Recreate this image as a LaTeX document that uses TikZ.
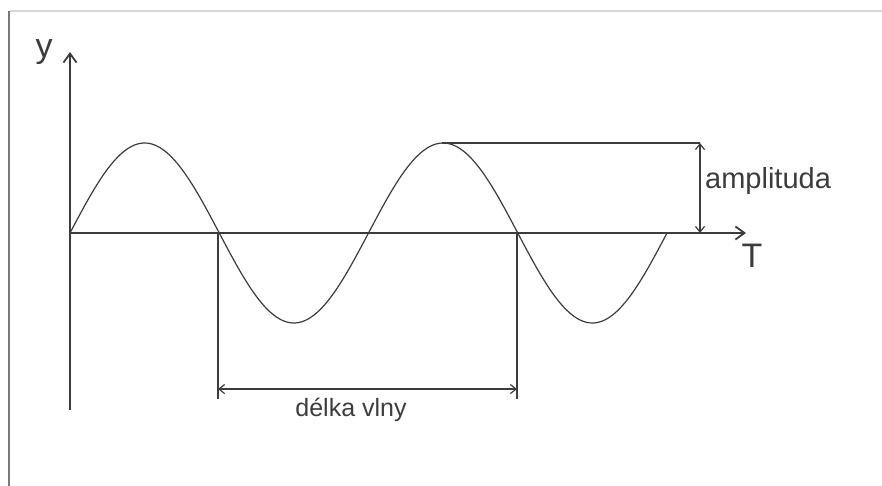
\documentclass[tikz,border=0pt]{standalone}
\usepackage{fontspec}
\setmainfont{Liberation Sans}
\usetikzlibrary{positioning,arrows.meta,calc}
\definecolor{InkGrey}{RGB}{60,60,60}
\definecolor{FrameGrey}{RGB}{120,120,120}
\definecolor{EdgeGrey}{RGB}{215,215,215}
\tikzset{
  axis/.style={-{Straight Barb[length=3.2mm,width=4.6mm]},line width=1.8pt,draw=InkGrey},
  wave/.style={line width=1.2pt,draw=InkGrey},
  guide/.style={line width=1.2pt,draw=InkGrey},
  dimline/.style={{Straight Barb[length=2mm,width=3.2mm]}-{Straight Barb[length=2mm,width=3.2mm]},line width=1.2pt,draw=InkGrey},
  lbl/.style={inner sep=0pt,text=InkGrey,font=\fontsize{25}{30}\selectfont},
  amplbl/.style={inner sep=0pt,text=InkGrey,font=\fontsize{29}{32}\selectfont},
  biglbl/.style={inner sep=0pt,text=InkGrey,font=\fontsize{34}{38}\selectfont}
}
\begin{document}
\begin{tikzpicture}[x=1pt,y=-1pt]
  \useasboundingbox (0,0) rectangle (882,486);
  % frame
  \draw[line width=2.2pt,draw=FrameGrey] (9,11) -- (9,486);
  \draw[line width=1.6pt,draw=EdgeGrey] (10,11) -- (882,11);
  % axes
  \coordinate (origin) at (70,233);
  \coordinate (ybot) at (70,410);
  \coordinate (ytop) at (70,52);
  \coordinate (xend) at (746,233);
  \draw[axis] (ybot) -- (ytop);
  \draw[axis] (origin) -- (xend);
  \node[biglbl] (ylab) at (44,52) {y};
  \node[biglbl] (tlab) at (752,256) {T};
  % wave
  \draw[wave] plot[domain=0:597,samples=240] ({70+\x},{233-90*sin(1.20603*\x)});
  % amplitude
  \coordinate (peak) at (442,143);
  \coordinate (atop) at (700,143);
  \coordinate (abot) at (700,233);
  \draw[guide] (peak) -- (atop);
  \draw[dimline] (atop) -- (abot);
  \node[amplbl,anchor=west] (amp) at (705,181) {amplituda};
  % wavelength
  \coordinate (zeroa) at (218,233);
  \coordinate (zerob) at (517,233);
  \coordinate (downa) at (218,399);
  \coordinate (downb) at (517,399);
  \draw[guide] (zeroa) -- (downa);
  \draw[guide] (zerob) -- (downb);
  \draw[dimline] ($(zeroa)!0.94!(downa)$) -- ($(zerob)!0.94!(downb)$);
  \node[lbl] (len) at (351,410) {délka vlny};
\end{tikzpicture}
\end{document}
